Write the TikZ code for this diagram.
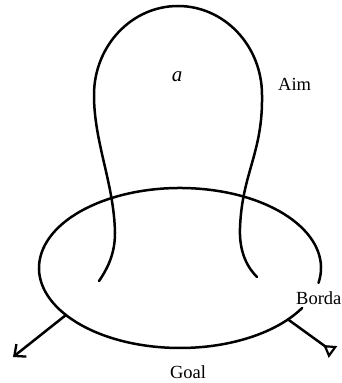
\documentclass[tikz,border=0pt]{standalone}
\usepackage{fontspec}
\setmainfont{Liberation Serif}
\usetikzlibrary{arrows.meta}
\begin{document}
\begin{tikzpicture}[x=1pt,y=1pt,
  curve/.style={line width=2.5pt, line cap=round, black},
  lbl/.style={inner sep=0pt, font=\fontsize{18.5}{22}\selectfont}]
\useasboundingbox (0,0) rectangle (341,383);
% aim bulb
\draw[curve] (99,102) .. controls (108,115) and (115,130) .. (115,150)
  .. controls (114,200) and (94,240) .. (94,288)
  arc[start angle=180, end angle=0, x radius=84pt, y radius=89pt]
  .. controls (263,230) and (242,210) .. (240,155)
  .. controls (239,130) and (248,115) .. (257,106);
% ellipse (goal) with gap at right
\coordinate (C) at (180,115);
\draw[curve] ([shift={(-10.8:141pt and 80pt)}]C) arc[start angle=-10.8, end angle=330, x radius=141pt, y radius=80pt];
% connectors
\coordinate (L0) at ([shift={(216:141pt and 80pt)}]C);
\coordinate (L1) at (13,26);
\coordinate (R0) at ([shift={(-40:141pt and 80pt)}]C);
\coordinate (R1) at (333,31);
\draw[curve, -{Straight Barb[length=9pt, width=16pt, line width=2.3pt]}] (L0) -- (L1);
\draw[curve, -{Triangle[open, reversed, length=12pt, width=14pt, line width=2.2pt]}] (R0) -- (R1);
% labels
\node[lbl, font=\fontsize{21}{24}\selectfont] (a) at (177,306) {\itshape a};
\node[lbl, anchor=west] (aim) at (278,299) {Aim};
\node[lbl, anchor=west] (borda) at (296,85) {Borda};
\node[lbl] (goal) at (188,11) {Goal};
\end{tikzpicture}
\end{document}
